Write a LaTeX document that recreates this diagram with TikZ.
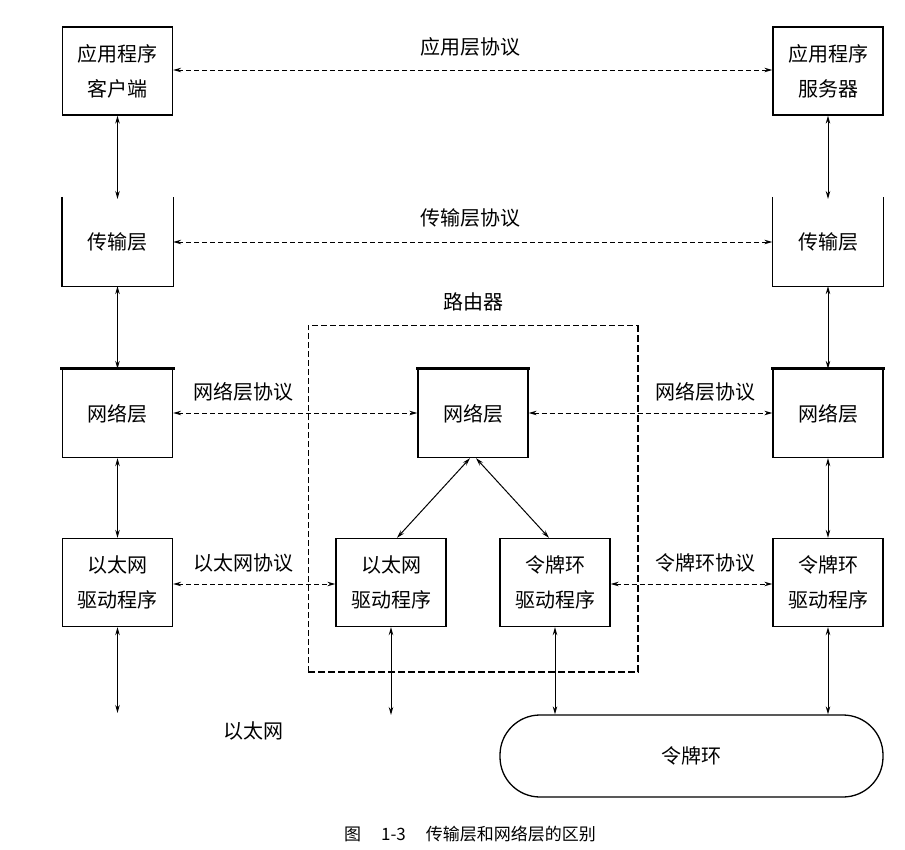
\documentclass[tikz,border=0pt]{standalone}
\usepackage{fontspec}
\newfontfamily\cjk{Noto Sans CJK SC}
\usetikzlibrary{arrows.meta}
\begin{document}
\begin{tikzpicture}[x=1pt,y=-1pt,
  box/.style={draw, line width=1.3pt, minimum width=110pt, minimum height=88pt, align=center, inner sep=0pt,
    font=\cjk\fontsize{20}{35}\selectfont},
  openbox/.style={box, draw=none},
  lbl/.style={font=\cjk\fontsize{20}{24}\selectfont, inner sep=0pt},
  link/.style={line width=1pt, {Stealth[length=8pt,width=4.5pt]}-{Stealth[length=8pt,width=4.5pt]}},
  proto/.style={link, dash pattern=on 5pt off 3pt},
  thicktop/.style={line width=3.2pt, line cap=rect}
]
\useasboundingbox (0,0) rectangle (905,849);

% left column
\node[box] (lapp) at (117.5,71) {应用程序\\客户端};
\node[openbox] (ltr) at (117.5,241.5) {传输层};
\node[box] (lnet) at (117.5,413.5) {网络层};
\node[box] (ldrv) at (117.5,582.5) {以太网\\驱动程序};
% right column
\node[box] (rapp) at (828,71) {应用程序\\服务器};
\node[openbox] (rtr) at (828,241.5) {传输层};
\node[box] (rnet) at (828,413.5) {网络层};
\node[box] (rdrv) at (828,582.5) {令牌环\\驱动程序};
% router
\node[box] (mnet) at (473,413.5) {网络层};
\node[box] (meth) at (391,582.5) {以太网\\驱动程序};
\node[box] (mtr) at (555,582.5) {令牌环\\驱动程序};

% open-top transport boxes
\draw[line width=1.3pt] (ltr.north west) -- (ltr.south west) -- (ltr.south east) -- (ltr.north east);
\draw[line width=1.3pt] (rtr.north west) -- (rtr.south west) -- (rtr.south east) -- (rtr.north east);
% thick tops of network boxes
\draw[thicktop] (lnet.north west) -- (lnet.north east);
\draw[thicktop] (rnet.north west) -- (rnet.north east);
\draw[thicktop] (mnet.north west) -- (mnet.north east);

% router dashed frame
\coordinate (rtl) at (308,325);
\coordinate (rtrc) at (638,325);
\coordinate (rbl) at (308,672);
\coordinate (rbr) at (638,672);
\draw[line width=1pt, dash pattern=on 6pt off 3pt] (rbl) -- (rtl) -- (rtrc);
\draw[line width=2.4pt, dash pattern=on 7pt off 3pt] (rtrc) -- (rbr) -- (rbl);
\node[lbl] (rlabel) at (473,302) {路由器};

% token ring
\node[draw, line width=1.3pt, rounded corners=40pt, minimum width=383pt, minimum height=82pt, inner sep=0pt,
  font=\cjk\fontsize{20}{24}\selectfont] (ring) at (691.5,756) {令牌环};

% free ends for ethernet
\coordinate (le) at (117.5,713);
\coordinate (me) at (391,715);
\node[lbl] (ethlabel) at (253,731) {以太网};

% vertical links
\draw[link] (lapp) -- (ltr.south |- 0,199);
\draw[link] (ltr) -- (lnet);
\draw[link] (lnet) -- (ldrv);
\draw[link] (ldrv) -- (le);
\draw[link] (rapp) -- (rtr.south |- 0,199);
\draw[link] (rtr) -- (rnet);
\draw[link] (rnet) -- (rdrv);
\draw[link] (rdrv) -- (rdrv.south |- ring.north);
\draw[link] (meth) -- (me);
\draw[link] (mtr) -- (mtr.south |- ring.north);
\draw[link] ([xshift=-3pt]mnet.south) -- ([xshift=6pt]meth.north);
\draw[link] ([xshift=3pt]mnet.south) -- ([xshift=-6pt]mtr.north);

% protocol links
\draw[proto] (lapp.east |- 0,70) -- (rapp.west |- 0,70);
\node[lbl] (papp) at (470,47) {应用层协议};
\draw[proto] (ltr.east |- 0,242) -- (rtr.west |- 0,242);
\node[lbl] (ptr) at (470,218) {传输层协议};
\draw[proto] (lnet.east |- 0,413) -- (mnet.west |- 0,413);
\node[lbl] (pnetl) at (243,392) {网络层协议};
\draw[proto] (mnet.east |- 0,413) -- (rnet.west |- 0,413);
\node[lbl] (pnetr) at (705,392) {网络层协议};
\draw[proto] (ldrv.east |- 0,584) -- (meth.west |- 0,584);
\node[lbl] (peth) at (243,563) {以太网协议};
\draw[proto] (mtr.east |- 0,584) -- (rdrv.west |- 0,584);
\node[lbl] (ptok) at (705,563) {令牌环协议};

% caption
\node[font=\cjk\fontsize{17}{20}\selectfont, inner sep=0pt] (cap) at (470,834) {图\hspace{20pt}1-3\hspace{20pt}传输层和网络层的区别};
\end{tikzpicture}
\end{document}
